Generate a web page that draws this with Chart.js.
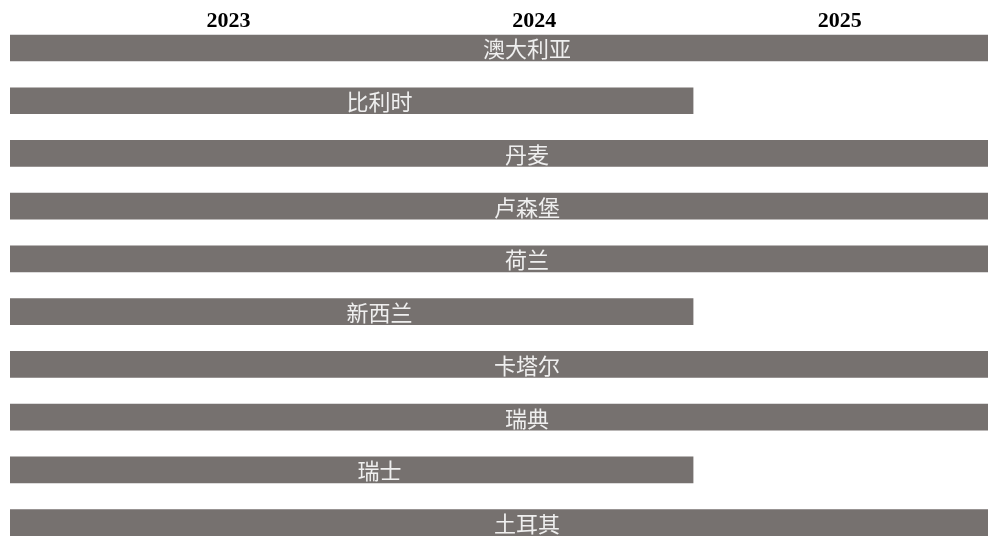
<!DOCTYPE html>
<html lang="zh">
<head>
<meta charset="UTF-8">
<title>时间线</title>
<script src="https://cdn.jsdelivr.net/npm/chart.js@4.4.1/dist/chart.umd.min.js"></script>
<style>
  html, body { margin: 0; padding: 0; background: #fff; overflow: hidden; }
  .wrap { position: relative; width: 988px; height: 549px; }
</style>
</head>
<body>
<div class="wrap"><canvas id="grafico"></canvas></div>
<script>
  // países y periodos (años decimales)
  const paises = ["澳大利亚", "比利时", "丹麦", "卢森堡", "荷兰", "新西兰", "卡塔尔", "瑞典", "瑞士", "土耳其"];
  const inicio = [2022.75, 2022.75, 2022.75, 2022.75, 2022.75, 2022.75, 2022.75, 2022.75, 2022.75, 2022.75];
  const fin = [2026.0, 2025.02, 2026.0, 2026.0, 2026.0, 2025.02, 2026.0, 2026.0, 2025.02, 2026.0];
  const anios = ["2023", "2024", "2025"];

  const colorBarra = '#76716f';

  // nombres dentro de las barras + años arriba (posiciones desde las escalas)
  const etiquetas = {
    id: 'etiquetas',
    afterDatasetsDraw(chart) {
      const { ctx, chartArea } = chart;
      const meta = chart.getDatasetMeta(0);
      const xs = chart.scales.x;
      ctx.save();
      ctx.font = '22px "Noto Sans CJK SC", sans-serif';
      ctx.fillStyle = '#efefef';
      ctx.textAlign = 'center';
      ctx.textBaseline = 'middle';
      meta.data.forEach((bar, i) => {
        const izq = Math.max(Math.min(bar.base, bar.x), chartArea.left);
        const der = Math.min(Math.max(bar.base, bar.x), chartArea.right);
        ctx.fillText(paises[i], (izq + der) / 2 + 28, bar.y + 1);
      });
      ctx.font = 'bold 22px "Liberation Serif", "Times New Roman", serif';
      ctx.fillStyle = '#000';
      anios.forEach(a => {
        ctx.fillText(a, xs.getPixelForValue(Number(a) + 0.5), chartArea.top - 0.5);
      });
      ctx.restore();
    }
  };

  new Chart(document.getElementById('grafico'), {
    type: 'bar',
    data: {
      labels: paises,
      datasets: [{
        data: paises.map((p, i) => [inicio[i], fin[i]]),
        backgroundColor: colorBarra,
        barThickness: 26,
        clip: 0
      }]
    },
    options: {
      indexAxis: 'y',
      responsive: true,
      maintainAspectRatio: false,
      animation: false,
      layout: { padding: { left: 10, right: 0, top: 21.6, bottom: 0 } },
      plugins: { legend: { display: false }, tooltip: { enabled: false } },
      scales: {
        x: {
          type: 'linear',
          position: 'top',
          min: 2022.785,
          max: 2025.985,
          grid: { display: false, drawTicks: false },
          border: { display: false },
          ticks: { display: false }
        },
        y: {
          display: false
        }
      }
    },
    plugins: [etiquetas]
  });
</script>
</body>
</html>
